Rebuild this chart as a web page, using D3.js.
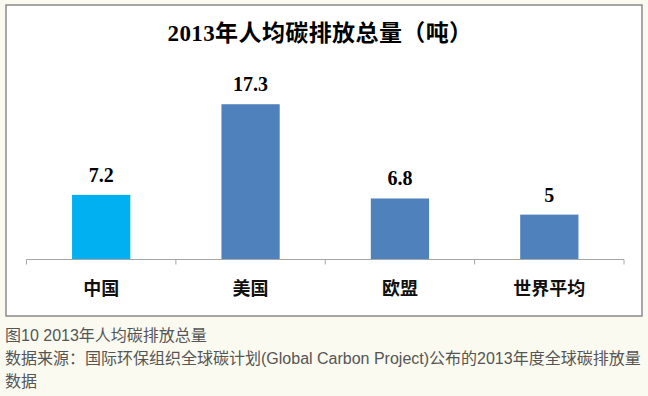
<!DOCTYPE html>
<html lang="zh">
<head>
<meta charset="UTF-8">
<title>2013年人均碳排放总量</title>
<script src="https://d3js.org/d3.v7.min.js"></script>
<style>
html, body {
margin: 0;
padding: 0;
background-color: #fafaf0;
}
svg {
display: block;
}
.bar-label {
font-family: "Liberation Serif", "Noto Sans CJK SC", serif;
font-weight: bold;
font-size: 20px;
fill: #000;
}
.cat-label {
font-family: "Noto Sans CJK SC", sans-serif;
font-weight: bold;
font-size: 18px;
fill: #111;
}
.caption {
font-family: "Liberation Sans", "Noto Sans CJK SC", sans-serif;
font-size: 16px;
fill: #555;
}
</style>
</head>
<body>
<svg id="chart" width="648" height="396"></svg>
<script>
// 数据
const categories = ["中国", "美国", "欧盟", "世界平均"];
const values = [7.2, 17.3, 6.8, 5];
const barColors = ["#00b0f0", "#4f81bd", "#4f81bd", "#4f81bd"];
const chartTitle = "2013年人均碳排放总量（吨）";
const captionLines = [
    "图10 2013年人均碳排放总量",
    "数据来源：国际环保组织全球碳计划(Global Carbon Project)公布的2013年度全球碳排放量",
    "数据"
];

const width = 648;
const height = 396;

const svg = d3.select("#chart")
    .attr("width", width)
    .attr("height", height);

// 图表外框
svg.append("rect")
    .attr("x", 6)
    .attr("y", 5)
    .attr("width", 636)
    .attr("height", 311)
    .attr("fill", "#fff")
    .attr("stroke", "#8a8a8a")
    .attr("stroke-width", 1.5);

// 标题
svg.append("text")
    .attr("x", 320)
    .attr("y", 41)
    .attr("text-anchor", "middle")
    .style("font-family", "'Liberation Serif', 'Noto Sans CJK SC', serif")
    .style("font-weight", "bold")
    .style("font-size", "23px")
    .style("letter-spacing", "0.4px")
    .text(chartTitle);

// 比例尺
const pInner = 0.61;
const x = d3.scaleBand()
    .domain(categories)
    .range([26.5, 624])
    .paddingInner(pInner)
    .paddingOuter(pInner / 2);

const y = d3.scaleLinear()
    .domain([0, 20])
    .range([259.5, 80]);

// 柱子
svg.selectAll(".bar")
    .data(values)
    .enter()
    .append("rect")
    .attr("class", "bar")
    .attr("x", (d, i) => x(categories[i]))
    .attr("y", d => y(d))
    .attr("width", x.bandwidth())
    .attr("height", d => y(0) - y(d))
    .attr("fill", (d, i) => barColors[i]);

// 数值标签
svg.selectAll(".bar-label")
    .data(values)
    .enter()
    .append("text")
    .attr("class", "bar-label")
    .attr("x", (d, i) => x(categories[i]) + x.bandwidth() / 2)
    .attr("y", d => y(d) - 13)
    .attr("text-anchor", "middle")
    .text(d => d);

// x 轴 (刻度在分类边界)
const axisColor = "#a6a6a6";
svg.append("line")
    .attr("x1", x.range()[0])
    .attr("x2", x.range()[1])
    .attr("y1", y(0))
    .attr("y2", y(0))
    .attr("stroke", axisColor)
    .attr("stroke-width", 1);

const bounds = categories.map(c => x(c) + x.bandwidth() / 2 - x.step() / 2)
    .concat([x.range()[1]]);

svg.selectAll(".tick")
    .data(bounds)
    .enter()
    .append("line")
    .attr("class", "tick")
    .attr("x1", d => d)
    .attr("x2", d => d)
    .attr("y1", y(0))
    .attr("y2", y(0) + 5)
    .attr("stroke", axisColor)
    .attr("stroke-width", 1);

svg.selectAll(".cat-label")
    .data(categories)
    .enter()
    .append("text")
    .attr("class", "cat-label")
    .attr("x", d => x(d) + x.bandwidth() / 2)
    .attr("y", 295)
    .attr("text-anchor", "middle")
    .text(d => d);

// 图注
svg.selectAll(".caption")
    .data(captionLines)
    .enter()
    .append("text")
    .attr("class", "caption")
    .attr("x", 5)
    .attr("y", (d, i) => 341 + i * 23)
    .text(d => d);
</script>
</body>
</html>
